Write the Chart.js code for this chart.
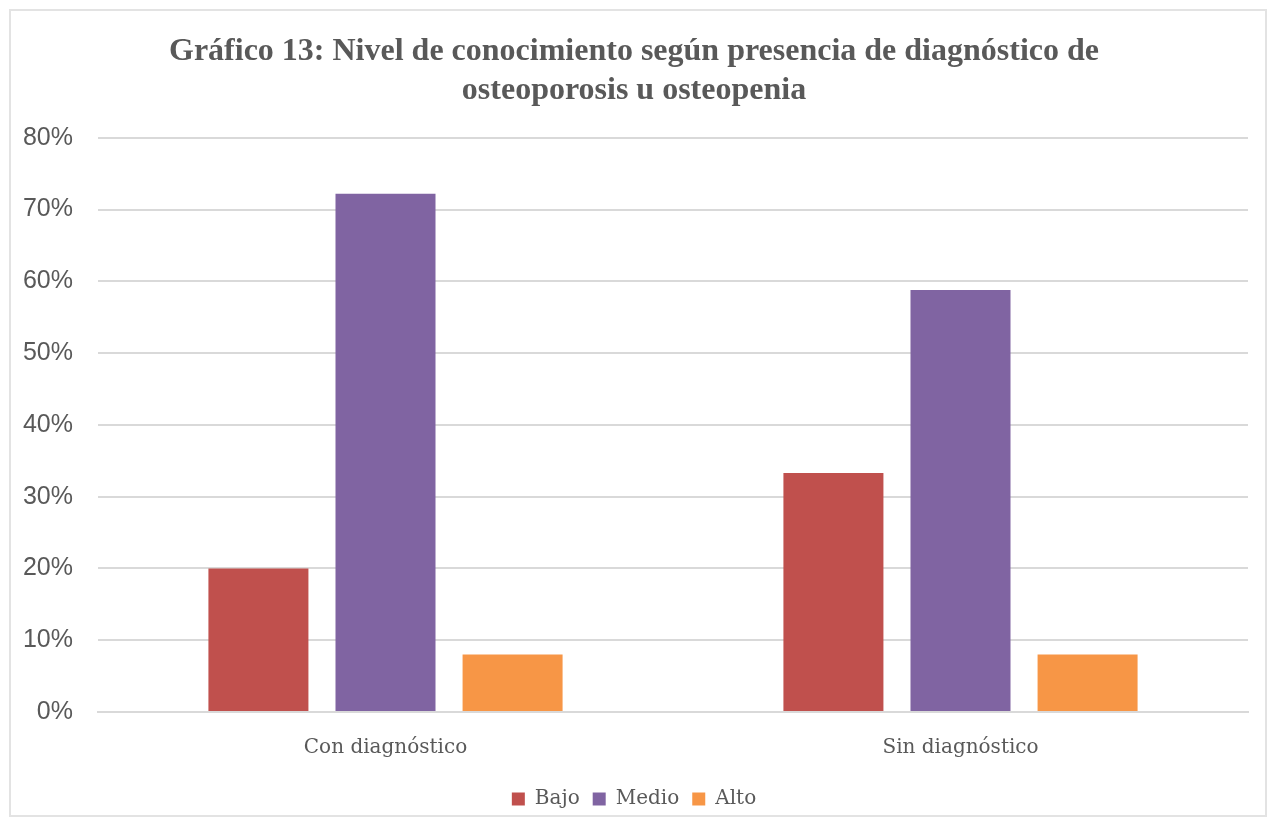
<!DOCTYPE html>
<html>
<head>
<meta charset="utf-8">
<script src="https://cdn.jsdelivr.net/npm/chart.js@4/dist/chart.umd.min.js"></script>
<style>
  html, body { margin: 0; padding: 0; background: #fff; }
  #wrap { position: relative; width: 1276px; height: 826px; }
</style>
</head>
<body>
<div id="wrap"><canvas id="chart" width="1276" height="826"></canvas></div>
<script>
// data
var categories = ['Con diagnóstico', 'Sin diagnóstico'];
var bajo = [20.0, 33.3];
var medio = [72.2, 58.8];
var alto = [8.0, 8.0];
var yTicks = [0, 10, 20, 30, 40, 50, 60, 70, 80];

var textColor = '#595959';
var gridColor = '#d9d9d9';

// thin frame round the whole chart
var framePlugin = {
    id: 'frame',
    beforeDraw: function (chart) {
        var c = chart.ctx;
        c.save();
        c.fillStyle = '#fff';
        c.fillRect(0, 0, chart.width, chart.height);
        c.strokeStyle = '#e3e3e3';
        c.lineWidth = 2;
        c.strokeRect(10, 10, chart.width - 20, chart.height - 20);
        c.restore();
    }
};

new Chart(document.getElementById('chart').getContext('2d'), {
    type: 'bar',
    data: {
        labels: categories,
        datasets: [
            { label: 'Bajo', data: bajo, backgroundColor: '#C0504D' },
            { label: 'Medio', data: medio, backgroundColor: '#8064A2' },
            { label: 'Alto', data: alto, backgroundColor: '#F79646' }
        ]
    },
    options: {
        responsive: false,
        animation: false,
        devicePixelRatio: 1,
        categoryPercentage: 0.663,
        barPercentage: 0.787,
        layout: { padding: { left: 20, right: 28, top: 33, bottom: 7 } },
        scales: {
            x: {
                grid: { display: false },
                border: { display: true, color: gridColor, width: 2 },
                ticks: {
                    color: textColor,
                    font: { family: 'DejaVu Serif', size: 20 },
                    padding: 16
                }
            },
            y: {
                min: 0,
                max: 80,
                afterBuildTicks: function (axis) {
                    axis.ticks = yTicks.map(function (v) { return { value: v }; });
                },
                afterFit: function (axis) { axis.width = 78; },
                grid: { color: gridColor, lineWidth: 2, drawTicks: false },
                border: { display: false },
                ticks: {
                    color: textColor,
                    font: { family: 'Liberation Sans', size: 25 },
                    padding: 25,
                    callback: function (v) { return v + '%'; }
                }
            }
        },
        plugins: {
            title: {
                display: true,
                text: ['Gráfico 13: Nivel de conocimiento según presencia de diagnóstico de', 'osteoporosis u osteopenia'],
                color: textColor,
                font: { family: 'Liberation Serif', size: 32, weight: 'bold', lineHeight: 1.2 },
                padding: { top: 0, bottom: 28 }
            },
            legend: {
                position: 'bottom',
                labels: {
                    color: textColor,
                    font: { family: 'DejaVu Serif', size: 20 },
                    boxWidth: 13,
                    boxHeight: 13,
                    padding: 13
                }
            },
            tooltip: { enabled: false }
        }
    },
    plugins: [framePlugin]
});
</script>
</body>
</html>
